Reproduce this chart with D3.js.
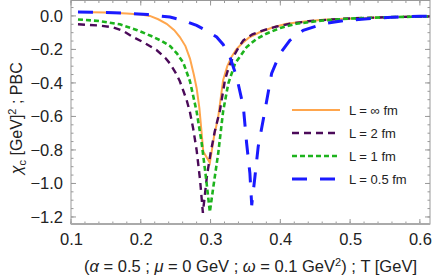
<!DOCTYPE html>
<html>
<head>
<meta charset="utf-8">
<script src="https://cdn.jsdelivr.net/npm/d3@7"></script>
<style>
  body { margin: 0; background: #fff; }
  svg text { font-family: "Liberation Sans", Arial, sans-serif; fill: #222; }
</style>
</head>
<body>
<div id="chart"></div>
<script>
// series: [T in GeV, chi_c in GeV^2]
const lInf = [
  [0.11, 0.023], [0.15, 0.02], [0.18, 0.015], [0.2, 0.008], [0.213, 0.0], [0.225, -0.02],
  [0.237, -0.047], [0.248, -0.085], [0.256, -0.126], [0.264, -0.18], [0.2705, -0.255],
  [0.276, -0.35], [0.28, -0.43], [0.284, -0.55], [0.2896, -0.81], [0.299, -0.877],
  [0.305, -0.72], [0.311, -0.603], [0.318, -0.384], [0.324, -0.3], [0.33, -0.245],
  [0.337, -0.2], [0.3445, -0.166], [0.355, -0.13], [0.371, -0.096], [0.39, -0.068],
  [0.409, -0.047], [0.435, -0.033], [0.461, -0.023], [0.5, -0.015], [0.55, -0.008],
  [0.6, -0.004], [0.615, -0.003]
];
const l2 = [
  [0.11, -0.05], [0.14, -0.057], [0.16, -0.068], [0.175, -0.09], [0.189, -0.126],
  [0.205, -0.16], [0.223, -0.205], [0.235, -0.25], [0.242, -0.285], [0.25, -0.34],
  [0.256, -0.39], [0.2658, -0.503], [0.2705, -0.575], [0.275, -0.67], [0.28, -0.8],
  [0.285, -0.98], [0.289, -1.175], [0.295, -0.95], [0.3, -0.82], [0.306, -0.69],
  [0.3135, -0.563], [0.3206, -0.384], [0.3265, -0.3], [0.3325, -0.245], [0.34, -0.19],
  [0.347, -0.146], [0.36, -0.11], [0.3755, -0.086], [0.395, -0.063], [0.4137, -0.047],
  [0.44, -0.032], [0.47, -0.022], [0.5, -0.015], [0.55, -0.008], [0.6, -0.004], [0.615, -0.003]
];
const l1 = [
  [0.11, -0.021], [0.14, -0.03], [0.17, -0.05], [0.195, -0.085], [0.215, -0.12],
  [0.23, -0.15], [0.242, -0.18], [0.252, -0.225], [0.261, -0.28], [0.2705, -0.39],
  [0.28, -0.57], [0.287, -0.75], [0.293, -0.95], [0.299, -1.17], [0.304, -1.02],
  [0.311, -0.82], [0.318, -0.57], [0.3254, -0.404], [0.335, -0.285], [0.3517, -0.186],
  [0.365, -0.14], [0.38, -0.106], [0.4, -0.072], [0.423, -0.047], [0.461, -0.027],
  [0.5, -0.016], [0.55, -0.008], [0.6, -0.004], [0.615, -0.003]
];
const l05 = [
  [0.11, 0.023], [0.15, 0.02], [0.18, 0.016], [0.21, 0.008], [0.2418, -0.007],
  [0.26, -0.025], [0.28, -0.057], [0.295, -0.09], [0.3087, -0.126], [0.318, -0.17],
  [0.3278, -0.245], [0.3374, -0.364], [0.347, -0.543], [0.3517, -0.76], [0.3564, -0.94],
  [0.359, -1.13], [0.3636, -0.96], [0.3683, -0.78], [0.3755, -0.62], [0.378, -0.563],
  [0.3875, -0.344], [0.3994, -0.225], [0.4137, -0.146], [0.4328, -0.086], [0.4615, -0.047],
  [0.49, -0.028], [0.525, -0.017], [0.56, -0.008], [0.6, -0.002], [0.615, -0.001]
];

const labels = ['L = \u221e fm', 'L = 2 fm', 'L = 1 fm', 'L = 0.5 fm'];
const xTicks = [0.1, 0.2, 0.3, 0.4, 0.5, 0.6];
const yTicks = [0, -0.2, -0.4, -0.6, -0.8, -1.0, -1.2];

const series = [
  { data: lInf, color: '#ffa64d', width: 2, dash: null },
  { data: l2, color: '#4b0a59', width: 2.4, dash: '7,5' },
  { data: l1, color: '#1db31d', width: 2.6, dash: '5,3' },
  { data: l05, color: '#1a1aff', width: 3, dash: '15,13' }
];

const W = 436, H = 278;
const margin = { top: 0.5, right: 6, bottom: 54, left: 71 };
const width = W - margin.left - margin.right,
  height = H - margin.top - margin.bottom;

const svg = d3.select('#chart').append('svg')
  .attr('width', W).attr('height', H);

const g = svg.append('g')
  .attr('transform', 'translate(' + margin.left + ',' + margin.top + ')');

const x = d3.scaleLinear().domain([0.1, 0.6145]).range([0, width]);
const y = d3.scaleLinear().domain([-1.242, 0.092]).range([height, 0]);

const minus = (s) => s.replace('-', '\u2212');

// frame ticks (inward) on all four sides
const xMinor = d3.range(0.1, 0.615, 0.02);
const yMinor = d3.range(-1.2, 0.09, 0.05);
const frameColor = '#999';

function tickMarks(vals, len, horizontal) {
  vals.forEach((v) => {
    if (horizontal) {
      g.append('line').attr('x1', x(v)).attr('x2', x(v)).attr('y1', height).attr('y2', height - len)
        .attr('stroke', frameColor);
      g.append('line').attr('x1', x(v)).attr('x2', x(v)).attr('y1', 0).attr('y2', len)
        .attr('stroke', frameColor);
    } else {
      g.append('line').attr('y1', y(v)).attr('y2', y(v)).attr('x1', 0).attr('x2', len)
        .attr('stroke', frameColor);
      g.append('line').attr('y1', y(v)).attr('y2', y(v)).attr('x1', width).attr('x2', width - len)
        .attr('stroke', frameColor);
    }
  });
}
tickMarks(xMinor, 2.5, true);
tickMarks(xTicks, 5, true);
tickMarks(yMinor, 2.5, false);
tickMarks(yTicks, 5, false);

// axes for labels only
const xAxis = g.append('g')
  .attr('transform', 'translate(0,' + height + ')')
  .call(d3.axisBottom(x).tickValues(xTicks).tickSize(0).tickPadding(9).tickFormat(d3.format('.1f')));
const yAxis = g.append('g')
  .call(d3.axisLeft(y).tickValues(yTicks).tickSize(0).tickPadding(8)
    .tickFormat((d) => minus(d3.format('.1f')(d))));
[xAxis, yAxis].forEach((a) => {
  a.select('.domain').remove();
  a.selectAll('text').attr('font-size', 16.5).attr('font-family', '"Liberation Sans", Arial, sans-serif')
    .attr('fill', '#222');
});

// clip
svg.append('defs').append('clipPath').attr('id', 'clip')
  .append('rect').attr('width', width).attr('height', height);

const line = d3.line().x((d) => x(d[0])).y((d) => y(d[1]));
const plot = g.append('g').attr('clip-path', 'url(#clip)');
series.forEach((s) => {
  plot.append('path').datum(s.data)
    .attr('fill', 'none')
    .attr('stroke', s.color)
    .attr('stroke-width', s.width)
    .attr('stroke-dasharray', s.dash)
    .attr('d', line);
});

// frame
g.append('rect').attr('width', width).attr('height', height)
  .attr('fill', 'none').attr('stroke', frameColor).attr('stroke-width', 1);
g.append('line').attr('x1', 0).attr('x2', width).attr('y1', height).attr('y2', height)
  .attr('stroke', '#aaa').attr('stroke-width', 2);

// legend
const legend = svg.append('g').attr('transform', 'translate(292,110)');
series.forEach((s, i) => {
  const row = legend.append('g').attr('transform', 'translate(0,' + i * 23 + ')');
  row.append('line').attr('x1', 0).attr('x2', 48).attr('y1', 0).attr('y2', 0)
    .attr('stroke', s.color).attr('stroke-width', s.width).attr('stroke-dasharray', s.dash);
  row.append('text').attr('x', 57).attr('y', 4.5).attr('font-size', 13).text(labels[i]);
});

// axis titles
const yl = svg.append('text')
  .attr('transform', 'translate(22,' + (margin.top + height / 2 + 6) + ') rotate(-90)')
  .attr('text-anchor', 'middle').attr('font-size', 16);
yl.append('tspan').attr('font-style', 'italic').text('\u03c7');
yl.append('tspan').attr('font-size', 11).attr('dy', 4).text('c');
yl.append('tspan').attr('dy', -4).text(' [GeV]');
yl.append('tspan').attr('font-size', 11).attr('dy', -6).text('2');
yl.append('tspan').attr('dy', 6).text(' ; PBC');

const xl = svg.append('text')
  .attr('x', margin.left + width / 2).attr('y', 272)
  .attr('text-anchor', 'middle').attr('font-size', 16.5);
xl.append('tspan').text('(');
xl.append('tspan').attr('font-style', 'italic').text('\u03b1');
xl.append('tspan').text(' = 0.5 ; ');
xl.append('tspan').attr('font-style', 'italic').text('\u03bc');
xl.append('tspan').text(' = 0 GeV ; ');
xl.append('tspan').attr('font-style', 'italic').text('\u03c9');
xl.append('tspan').text(' = 0.1 GeV');
xl.append('tspan').attr('font-size', 11).attr('dy', -6).text('2');
xl.append('tspan').attr('dy', 6).text(') ; T [GeV]');
</script>
</body>
</html>
